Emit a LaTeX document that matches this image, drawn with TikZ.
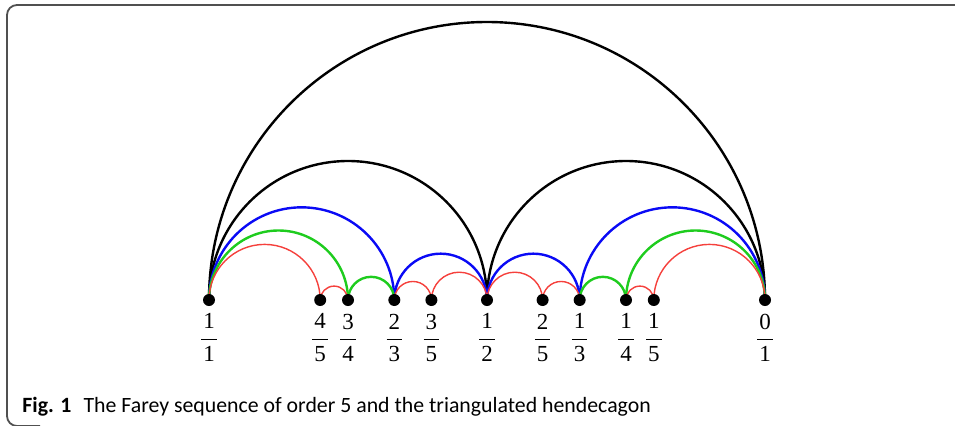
\documentclass[tikz,border=0pt]{standalone}
\usepackage{fontspec}
\setmainfont{Liberation Serif}
\newfontfamily\capfont{Carlito}
\usetikzlibrary{calc,positioning}
\definecolor{frameG}{HTML}{505050}
\definecolor{arcB}{HTML}{0A0AF5}
\definecolor{arcG}{HTML}{1ECC1E}
\definecolor{arcR}{HTML}{F5403C}

% semicircle over two named points, left to right
\newcommand{\farc}[3]{\draw[#1] let \p1=($(#3)-(#2)$) in (#2) arc[start angle=180,end angle=0,radius=0.5*\x1];}
\newcommand{\fr}[2]{$\displaystyle\frac{\hbox{\kern1pt#1\kern1pt}}{\hbox{\kern1pt#2\kern1pt}}$}

\begin{document}
\begin{tikzpicture}[x=0.5pt,y=0.5pt,
    dot/.style={circle,fill=black,inner sep=0pt,minimum size=6pt},
    lab/.style={inner sep=0pt,font=\fontsize{11.5}{13}\selectfont},
    thk/.style={line width=1.2pt},
    thn/.style={line width=0.7pt}]
    \useasboundingbox (0,0) rectangle (955,425);
    \draw[frameG,line width=0.9pt,rounded corners=5pt] (955,420) -- (7,420) -- (7,-1) -- (40,-1);
    \foreach \p/\q in {1/1,4/5,3/4,2/3,3/5,1/2,2/5,1/3,1/4,1/5,0/1}
        \coordinate (f\p\q) at ({765-556*\p/\q},125);
    % order 1 and 2
    \farc{thk,black}{f11}{f01}
    \farc{thk,black}{f11}{f12}
    \farc{thk,black}{f12}{f01}
    % order 3
    \farc{thk,arcB}{f11}{f23}
    \farc{thk,arcB}{f23}{f12}
    \farc{thk,arcB}{f12}{f13}
    \farc{thk,arcB}{f13}{f01}
    % order 4
    \farc{thk,arcG}{f11}{f34}
    \farc{thk,arcG}{f34}{f23}
    \farc{thk,arcG}{f13}{f14}
    \farc{thk,arcG}{f14}{f01}
    % order 5
    \farc{thn,arcR}{f11}{f45}
    \farc{thn,arcR}{f45}{f34}
    \farc{thn,arcR}{f23}{f35}
    \farc{thn,arcR}{f35}{f12}
    \farc{thn,arcR}{f12}{f25}
    \farc{thn,arcR}{f25}{f13}
    \farc{thn,arcR}{f14}{f15}
    \farc{thn,arcR}{f15}{f01}
    \foreach \p/\q in {1/1,4/5,3/4,2/3,3/5,1/2,2/5,1/3,1/4,1/5,0/1}{
        \node[dot] (d\p\q) at (f\p\q) {};
        \node[lab,below=3.5pt of d\p\q] (l\p\q) {\fr{\p}{\q}};
    }
    \node[anchor=base west,inner sep=0pt,font=\capfont\fontsize{10.9}{12}\selectfont] (cap) at (22,13)
        {\textbf{Fig. 1}\hspace{6pt}The Farey sequence of order 5 and the triangulated hendecagon};
\end{tikzpicture}
\end{document}
